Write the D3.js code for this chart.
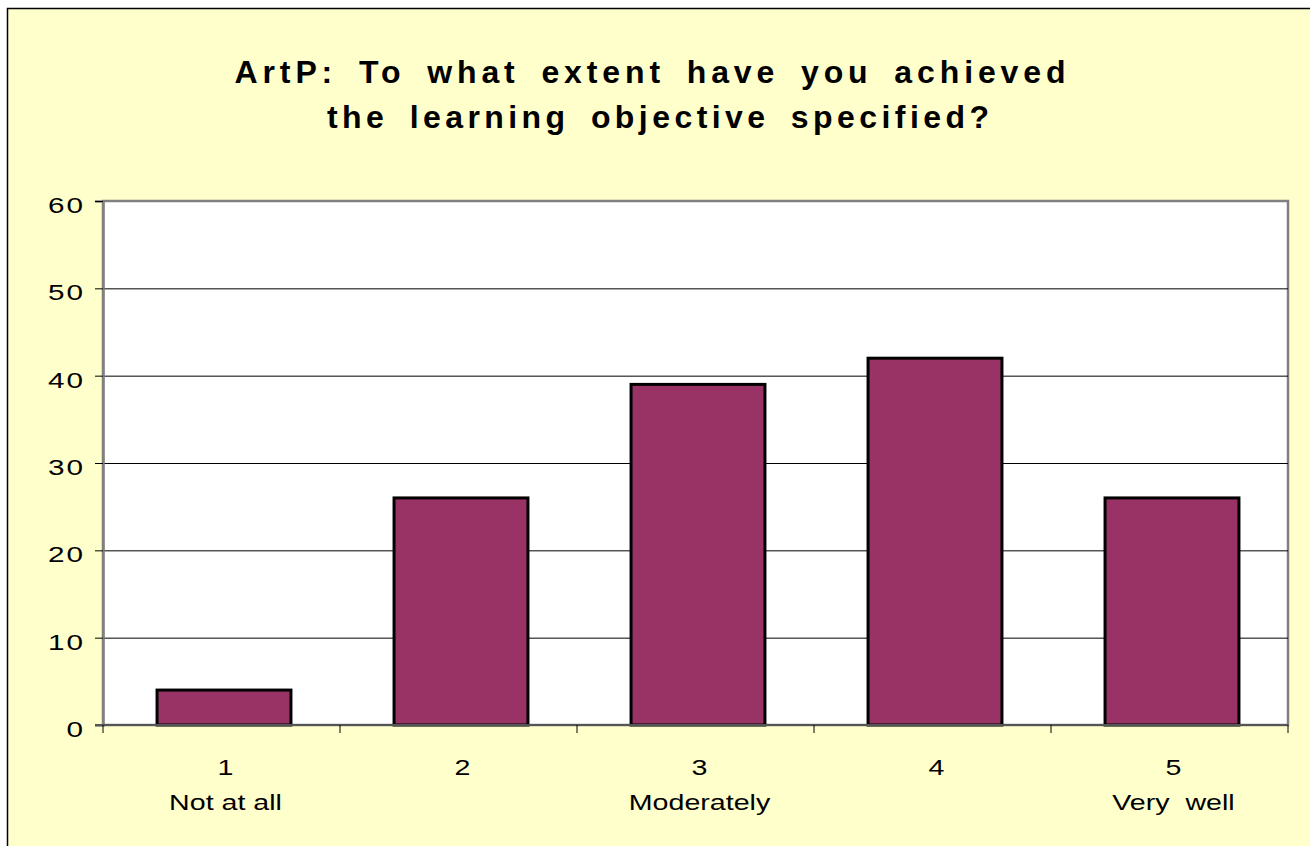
<!DOCTYPE html>
<html><head><meta charset="utf-8">
<script src="https://cdn.jsdelivr.net/npm/d3@7"></script>
<style>html,body{margin:0;padding:0;background:#fff;}svg{display:block;font-family:"Liberation Sans",Arial,sans-serif;}</style>
</head><body>
<script>
const categories = ["1","2","3","4","5"];
const subLabels = ["Not at all","","Moderately","","Very  well"];
const values = [4, 26, 39, 42, 26];
const yTicks = [0,10,20,30,40,50,60];
const titleLines = ["ArtP: To what extent have you achieved","the learning objective specified?"];

const W = 1310, H = 846;
const svg = d3.select("body").append("svg").attr("width", W).attr("height", H);
svg.append("rect").attr("x",7.5).attr("y",8.5).attr("width",W).attr("height",H)
  .attr("fill","#FFFFCC").attr("stroke","#000").attr("stroke-width",1.5);

const m = {l:103, r:1288, t:201, b:725};
const xb = d3.scaleBand().domain(categories).range([m.l, m.r]);
const barW = xb.step() * 0.565;
const y = d3.scaleLinear().domain([0,60]).range([m.b, m.t]);

svg.append("rect").attr("x",m.l).attr("y",m.t).attr("width",m.r-m.l).attr("height",m.b-m.t)
  .attr("fill","#fff").attr("stroke","#808080").attr("stroke-width",2.5);

// gridlines
svg.append("g").selectAll("line").data(yTicks.filter(d=>d>0 && d<60)).join("line")
  .attr("x1",m.l).attr("x2",m.r).attr("y1",d=>y(d)+0.5).attr("y2",d=>y(d)+0.5)
  .attr("stroke","#000").attr("stroke-width",1);

// bars
svg.append("g").selectAll("rect").data(values).join("rect")
  .attr("x",(d,i)=>xb(categories[i]) + (xb.step()-barW)/2 + 2.5).attr("width",barW)
  .attr("y",d=>y(d)).attr("height",d=>y(0)-y(d))
  .attr("fill","#993366").attr("stroke","#000").attr("stroke-width",3);

// y axis
const yAxis = d3.axisLeft(y).tickValues(yTicks).tickSize(8).tickFormat("");
const gy = svg.append("g").attr("transform",`translate(${m.l},0)`).call(yAxis);
gy.select(".domain").attr("stroke","#808080").attr("stroke-width",2.5);
gy.selectAll(".tick line").attr("stroke","#000");
svg.append("g").selectAll("text").data(yTicks).join("text")
  .attr("transform",d=>`translate(85,${y(d)}) scale(1.35,1)`)
  .attr("text-anchor","end").attr("dy","0.54em")
  .attr("font-size",22).attr("letter-spacing","1.5px").attr("fill","#000")
  .text(d=>d);

// x axis
svg.append("line").attr("x1",m.l-8).attr("x2",m.r).attr("y1",m.b).attr("y2",m.b).attr("stroke","#555").attr("stroke-width",2);
svg.append("g").selectAll("line").data(categories.concat(["end"])).join("line")
  .attr("x1",(d,i)=>m.l + i*xb.step()).attr("x2",(d,i)=>m.l + i*xb.step())
  .attr("y1",m.b).attr("y2",m.b+8).attr("stroke","#000");
svg.append("g").selectAll("text").data(categories).join("text")
  .attr("transform",d=>`translate(${xb(d)+xb.bandwidth()/2+4},775) scale(1.3,1)`)
  .attr("text-anchor","middle").attr("font-size",22).text(d=>d);
svg.append("g").selectAll("text").data(subLabels).join("text")
  .attr("transform",(d,i)=>`translate(${xb(categories[i])+xb.bandwidth()/2+4},810) scale(1.3,1)`)
  .attr("text-anchor","middle").attr("font-size",22)
  .style("white-space","pre").text(d=>d);

// title
const titleLen = [835, 666];
svg.append("g").selectAll("text").data(titleLines).join("text")
  .attr("x",(d,i)=>[652,660][i]).attr("y",(d,i)=>[83,128][i]).attr("text-anchor","middle")
  .attr("font-size",32).attr("font-weight","bold").attr("letter-spacing","4px").attr("word-spacing","8px")
  .attr("textLength",(d,i)=>titleLen[i]).attr("lengthAdjust","spacing")
  .text(d=>d);
</script>
</body></html>
